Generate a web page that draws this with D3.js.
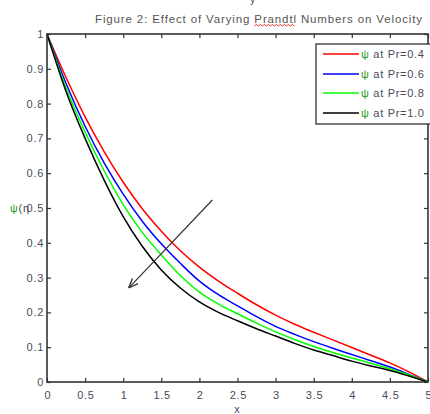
<!DOCTYPE html>
<html>
<head>
<meta charset="utf-8">
<script src="https://cdn.jsdelivr.net/npm/d3@7"></script>
<style>
  html, body { margin: 0; padding: 0; background: #fff; overflow: hidden; }
  text { font-family: "Liberation Sans", Arial, sans-serif; }
</style>
</head>
<body>
<svg id="chart" width="430" height="414"></svg>
<script>
// Velocity profiles psi(x) for several Prandtl numbers
const xs = [0, 0.25, 0.5, 0.75, 1.0, 1.25, 1.5, 1.75, 2.0, 2.25, 2.5, 2.75, 3.0, 3.25, 3.5, 3.75, 4.0, 4.25, 4.5, 4.75, 5.0];
const psiPr04 = [1.0, 0.875, 0.762, 0.662, 0.574, 0.498, 0.433, 0.377, 0.33, 0.29, 0.255, 0.222, 0.192, 0.166, 0.143, 0.121, 0.099, 0.077, 0.055, 0.029, 0];
const psiPr06 = [1.0, 0.858, 0.735, 0.63, 0.54, 0.462, 0.397, 0.341, 0.29, 0.251, 0.219, 0.188, 0.16, 0.137, 0.116, 0.097, 0.079, 0.061, 0.043, 0.022, 0];
const psiPr08 = [1.0, 0.845, 0.718, 0.607, 0.51, 0.43, 0.365, 0.306, 0.258, 0.224, 0.196, 0.169, 0.144, 0.122, 0.102, 0.085, 0.069, 0.054, 0.038, 0.02, 0];
const psiPr10 = [1.0, 0.835, 0.70, 0.58, 0.475, 0.39, 0.322, 0.27, 0.23, 0.2, 0.176, 0.153, 0.132, 0.111, 0.092, 0.076, 0.06, 0.046, 0.033, 0.017, 0];
const seriesLabels = ["at Pr=0.4", "at Pr=0.6", "at Pr=0.8", "at Pr=1.0"];
const seriesColors = ["#ff0000", "#0000ff", "#00ff00", "#000000"];
const xTicks = [0, 0.5, 1, 1.5, 2, 2.5, 3, 3.5, 4, 4.5, 5];
const xTickLabels = ["0", "0.5", "1", "1.5", "2", "2.5", "3", "3.5", "4", "4.5", "5"];
const yTicks = [0, 0.1, 0.2, 0.3, 0.4, 0.5, 0.6, 0.7, 0.8, 0.9, 1];
const yTickLabels = ["0", "0.1", "0.2", "0.3", "0.4", "0.5", "0.6", "0.7", "0.8", "0.9", "1"];
// Arrow showing the direction of increasing Pr (data coordinates)
const arrowFrom = [2.17, 0.523];
const arrowTo = [1.08, 0.272];

const allSeries = [psiPr04, psiPr06, psiPr08, psiPr10];

const svg = d3.select("#chart");
const x = d3.scaleLinear().domain([0, 5]).range([47, 428]);
const y = d3.scaleLinear().domain([0, 1]).range([382, 34]);
const textCol = "#4a4a5a";
const frameCol = "#333";
const spacing = 0.7;
const fs = 11;

// Title
const title = svg.append("text")
  .attr("x", 95).attr("y", 23)
  .attr("font-size", 11.5)
  .attr("fill", "#555")
  .attr("textLength", 327)
  .attr("lengthAdjust", "spacing")
  .text("Figure 2: Effect of Varying Prandtl Numbers on Velocity");

// stray glyph descender clipped at the very top
svg.append("text").attr("x", 250).attr("y", 3).attr("font-size", 11).attr("fill", "#555").text("y");

// Spell-check squiggle under "Prandtl"
(function () {
  const node = title.node();
  const full = node.textContent;
  const i0 = full.indexOf("Prandtl");
  const p0 = node.getStartPositionOfChar(i0).x;
  const p1 = node.getEndPositionOfChar(i0 + 6).x;
  let d = `M${p0},26`;
  let up = true;
  for (let px = p0 + 2; px <= p1; px += 2) { d += ` L${px},${up ? 24.5 : 26}`; up = !up; }
  svg.append("path").attr("d", d).attr("fill", "none").attr("stroke", "#e02020").attr("stroke-width", 0.9);
})();

// Plot curves
const line = d3.line()
  .x((d, i) => x(xs[i]))
  .y(d => y(d))
  .curve(d3.curveMonotoneX);

const plot = svg.append("g");
allSeries.forEach((s, k) => {
  plot.append("path")
    .attr("d", line(s))
    .attr("fill", "none")
    .attr("stroke", seriesColors[k])
    .attr("stroke-width", 1.5);
});

// Axes with inward ticks (bottom/top/left/right)
const tickLen = 4;
const axBottom = svg.append("g").attr("transform", `translate(0,${y(0)})`)
  .call(d3.axisBottom(x).tickValues(xTicks).tickSize(-tickLen).tickPadding(9)
    .tickFormat((d, i) => xTickLabels[i]));
const axTop = svg.append("g").attr("transform", `translate(0,${y(1)})`)
  .call(d3.axisTop(x).tickValues(xTicks).tickSize(-tickLen).tickFormat(""));
const axLeft = svg.append("g").attr("transform", `translate(${x(0)},0)`)
  .call(d3.axisLeft(y).tickValues(yTicks).tickSize(-tickLen).tickPadding(3)
    .tickFormat((d, i) => yTickLabels[i]));
const axRight = svg.append("g").attr("transform", `translate(${x(5)},0)`)
  .call(d3.axisRight(y).tickValues(yTicks).tickSize(-tickLen).tickFormat(""));

[axBottom, axTop, axLeft, axRight].forEach(g => {
  g.select(".domain").remove();
  g.selectAll(".tick line").attr("stroke", frameCol).attr("stroke-width", 1.2);
  g.selectAll(".tick text").attr("fill", textCol).attr("font-size", fs)
    .attr("letter-spacing", spacing)
    .attr("font-family", "Liberation Sans, Arial, sans-serif");
});
// keep x labels centred despite the trailing letter-spacing
axBottom.selectAll(".tick text").attr("dx", spacing / 2);

// Frame
svg.append("rect")
  .attr("x", x(0)).attr("y", y(1))
  .attr("width", x(5) - x(0)).attr("height", y(0) - y(1))
  .attr("fill", "none").attr("stroke", frameCol).attr("stroke-width", 1.6);

// Arrow
svg.append("defs").append("marker")
  .attr("id", "head").attr("viewBox", "0 0 10 10")
  .attr("refX", 9).attr("refY", 5)
  .attr("markerWidth", 8).attr("markerHeight", 8)
  .attr("orient", "auto")
  .append("path").attr("d", "M0,1 L10,5 L0,9").attr("fill", "none")
  .attr("stroke", "#333").attr("stroke-width", 1.4);
svg.append("line")
  .attr("x1", x(arrowFrom[0])).attr("y1", y(arrowFrom[1]))
  .attr("x2", x(arrowTo[0])).attr("y2", y(arrowTo[1]))
  .attr("stroke", "#333").attr("stroke-width", 1.2)
  .attr("marker-end", "url(#head)");

// Axis labels
const ylab = svg.append("text").attr("x", 10).attr("y", 212).attr("font-size", fs)
  .attr("letter-spacing", spacing).attr("fill", textCol);
ylab.append("tspan").attr("fill", "#2a9a2a").text("ψ");
ylab.append("tspan").text("(η");
svg.append("text").attr("x", 237).attr("y", 413).attr("text-anchor", "middle")
  .attr("font-size", fs).attr("fill", textCol).text("x");

// Legend
const lg = svg.append("g");
lg.append("rect").attr("x", 316).attr("y", 44).attr("width", 130).attr("height", 80)
  .attr("fill", "#fff").attr("stroke", "#222").attr("stroke-width", 1.2);
const rowY = [54, 74, 93, 113];
seriesLabels.forEach((lab, k) => {
  lg.append("line").attr("x1", 323).attr("x2", 359)
    .attr("y1", rowY[k]).attr("y2", rowY[k])
    .attr("stroke", seriesColors[k]).attr("stroke-width", 1.5);
  const t = lg.append("text").attr("x", 361).attr("y", rowY[k] + 4)
    .attr("font-size", fs).attr("letter-spacing", spacing).attr("fill", textCol);
  t.append("tspan").attr("fill", "#2a9a2a").text("ψ ");
  t.append("tspan").text(lab);
});
</script>
</body>
</html>
